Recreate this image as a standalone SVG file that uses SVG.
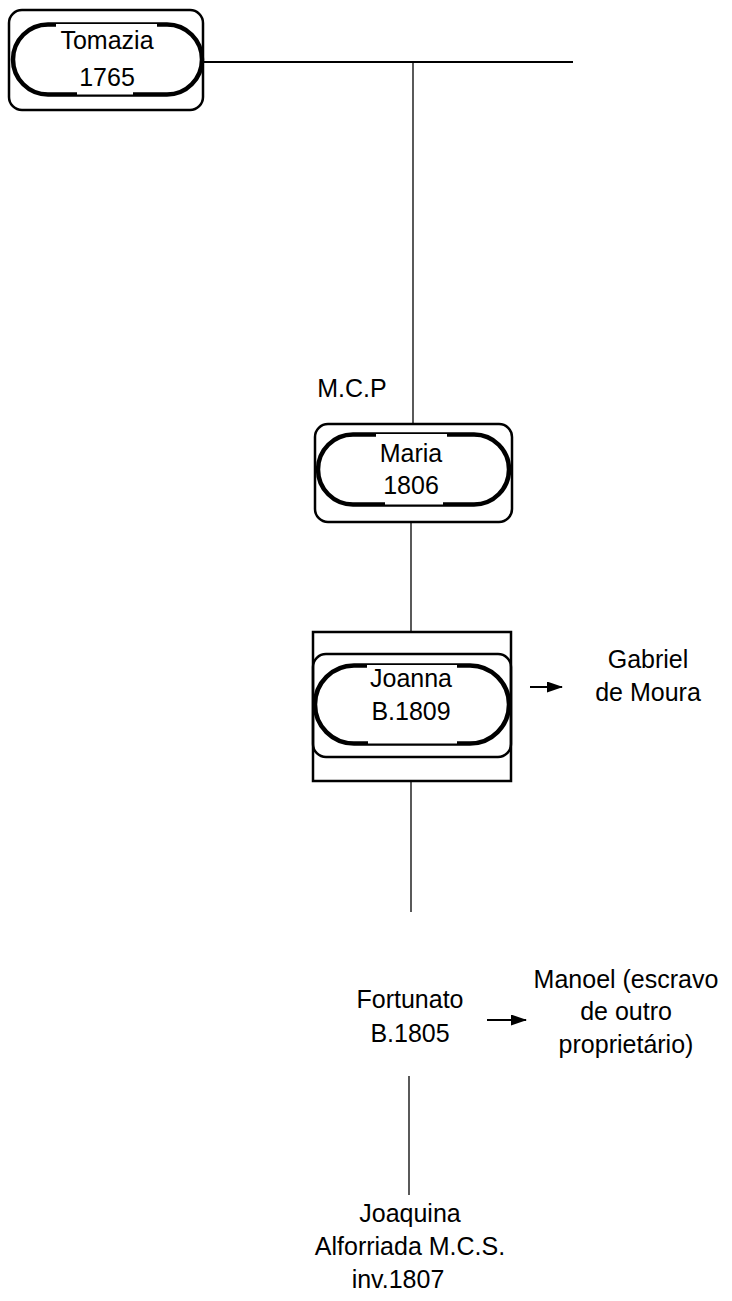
<svg xmlns="http://www.w3.org/2000/svg" width="732" height="1301" viewBox="0 0 732 1301">
<style>
text{font-family:"Liberation Sans",Arial,sans-serif;font-size:25px;fill:#000;text-anchor:middle}
.outer{fill:none;stroke:#000;stroke-width:2.5}
.stad{fill:#fff;stroke:#000;stroke-width:4.5}
.mask{fill:#fff;stroke:none}
.line{stroke:#000;stroke-width:1.3;fill:none}
</style>
<defs>
<marker id="ah" markerWidth="16" markerHeight="11" refX="15" refY="5.5" orient="auto" markerUnits="userSpaceOnUse">
<path d="M0,0 L16,5.5 L0,11 Z" fill="#000"/>
</marker>
</defs>
<rect width="732" height="1301" fill="#fff"/>
<g id="connectors">
<line class="line" x1="203" y1="62" x2="573" y2="62" style="stroke-width:2.2"/>
<line class="line" x1="413" y1="62" x2="413" y2="424"/>
<line class="line" x1="411" y1="522" x2="411" y2="632"/>
<line class="line" x1="411" y1="781" x2="411" y2="912"/>
<line class="line" x1="409" y1="1076" x2="409" y2="1195"/>
<line class="line" x1="530" y1="687" x2="562" y2="687" style="stroke-width:2" marker-end="url(#ah)"/>
<line class="line" x1="487" y1="1020" x2="526" y2="1020" style="stroke-width:2" marker-end="url(#ah)"/>
</g>
<g id="tomazia">
<rect class="outer" x="9" y="10" width="194" height="100" rx="13"/>
<rect class="stad" x="13" y="24.5" width="189" height="70" rx="35"/>
<rect class="mask" x="56" y="24" width="101" height="32"/>
<rect class="mask" x="77" y="62" width="56" height="32.5"/>
<text x="107" y="49">Tomazia</text>
<text x="107" y="86">1765</text>
</g>
<g id="mcp">
<text x="352" y="397">M.C.P</text>
</g>
<g id="maria">
<rect class="outer" x="315" y="424" width="197" height="98" rx="13"/>
<rect class="stad" x="318" y="434.5" width="191" height="70" rx="35"/>
<rect class="mask" x="376" y="434" width="71" height="34"/>
<rect class="mask" x="385" y="472" width="58" height="32.5"/>
<text x="411" y="462">Maria</text>
<text x="411" y="494">1806</text>
</g>
<g id="joanna">
<rect class="outer" x="313" y="632" width="198" height="149"/>
<rect class="outer" x="313" y="654" width="198" height="103" rx="13"/>
<rect class="stad" x="315" y="665.5" width="194" height="78" rx="39"/>
<rect class="mask" x="367" y="665" width="90" height="36"/>
<rect class="mask" x="368" y="705" width="89" height="38.5"/>
<text x="411" y="687">Joanna</text>
<text x="411" y="720">B.1809</text>
</g>
<g id="gabriel">
<text x="648" y="668">Gabriel</text>
<text x="648" y="701">de Moura</text>
</g>
<g id="fortunato">
<text x="410" y="1008">Fortunato</text>
<text x="410" y="1042">B.1805</text>
</g>
<g id="manoel">
<text x="626" y="988">Manoel (escravo</text>
<text x="626" y="1020">de outro</text>
<text x="626" y="1053">proprietário)</text>
</g>
<g id="joaquina">
<text x="410" y="1222">Joaquina</text>
<text x="410" y="1255">Alforriada M.C.S.</text>
<text x="398" y="1288">inv.1807</text>
</g>
</svg>
